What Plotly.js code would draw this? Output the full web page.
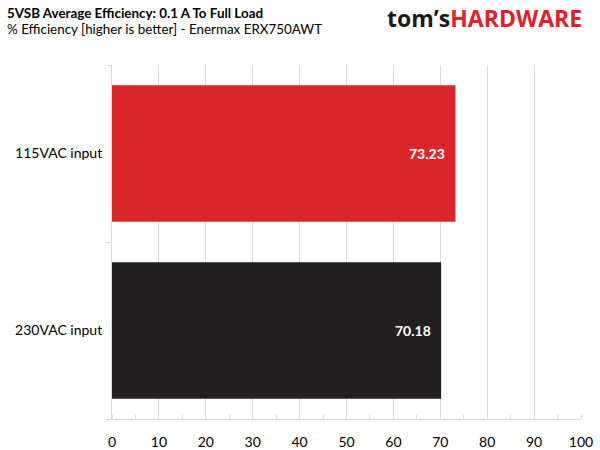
<!DOCTYPE html>
<html>
<head>
<meta charset="utf-8">
<script src="https://cdn.plot.ly/plotly-3.0.1.min.js"></script>
<style>
  html, body { margin: 0; padding: 0; background: #fff; }
  #chart { width: 600px; height: 450px; }
</style>
</head>
<body>
<div id="chart"></div>
<script>
// 5VSB average efficiency, Enermax ERX750AWT
var categories = ['115VAC input', '230VAC input'];
var efficiency = [73.23, 70.18];
var barColors = ['#d9262b', '#231f20'];
var xTicks = [0, 10, 20, 30, 40, 50, 60, 70, 80, 90, 100];

var font = 'Lato, "Open Sans", sans-serif';

var data = [{
  type: 'bar',
  orientation: 'h',
  y: categories,
  x: efficiency,
  marker: { color: barColors },
  hoverinfo: 'none'
}];

// value labels sit inside the bar ends
var annotations = categories.map(function (c, i) {
  return {
    x: efficiency[i], y: c, xref: 'x', yref: 'y',
    text: '<b>' + efficiency[i].toFixed(2) + '</b>',
    showarrow: false, xanchor: 'right', xshift: -8,
    font: { family: font, size: 14, color: '#ffffff' }
  };
});

annotations.push({
  xref: 'paper', yref: 'paper', x: -0.228, y: 1.147,
  xanchor: 'left', yanchor: 'middle', showarrow: false,
  text: '<b>5VSB Average Efficiency: 0.1 A To Full Load</b>',
  font: { family: font, size: 13.4, color: '#000' }
});
annotations.push({
  xref: 'paper', yref: 'paper', x: -0.228, y: 1.103,
  xanchor: 'left', yanchor: 'middle', showarrow: false,
  text: '% Efficiency [higher is better] - Enermax ERX750AWT',
  font: { family: font, size: 13.4, color: '#000' }
});
annotations.push({
  xref: 'paper', yref: 'paper', x: 1.007, y: 1.133,
  xanchor: 'right', yanchor: 'middle', showarrow: false,
  text: '<b>tom\u2019s</b><b><span style="color:#e0202a">HARDWARE</span></b>',
  font: { family: '"Open Sans", sans-serif', size: 23, color: '#1a1a1a' }
});

var layout = {
  width: 600,
  height: 450,
  margin: { l: 112, r: 19, t: 65, b: 31 },
  paper_bgcolor: '#fff',
  plot_bgcolor: '#fff',
  showlegend: false,
  bargap: 0.23,
  font: { family: font, size: 14, color: '#000' },
  xaxis: {
    range: [0, 100],
    tickvals: xTicks,
    showgrid: true,
    gridcolor: '#d9d9d9',
    gridwidth: 1,
    zeroline: false,
    showline: true,
    linecolor: '#d9d9d9',
    ticks: '',
    ticklabelstandoff: 10,
    minor: { dtick: 5, ticks: 'inside', ticklen: 4, tickcolor: '#d9d9d9', showgrid: false },
    fixedrange: true
  },
  yaxis: {
    categoryorder: 'array',
    categoryarray: categories.slice().reverse(),
    showgrid: false,
    zeroline: false,
    showline: true,
    linecolor: '#d9d9d9',
    ticks: 'outside',
    tickson: 'boundaries',
    ticklen: 5,
    tickcolor: '#d9d9d9',
    ticklabelstandoff: 6,
    fixedrange: true
  },
  annotations: annotations
};

Plotly.newPlot('chart', data, layout, { displayModeBar: false, staticPlot: true });
</script>
</body>
</html>
